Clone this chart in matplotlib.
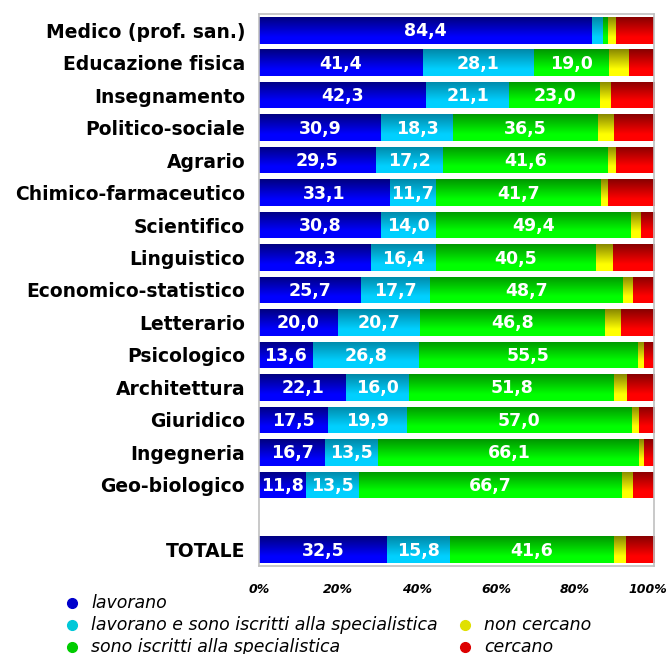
import numpy as np
import matplotlib
matplotlib.use("Agg")
import matplotlib.pyplot as plt
from matplotlib.colors import to_rgb
from matplotlib.lines import Line2D
from matplotlib.transforms import ScaledTranslation

# --- data ---
categories = ["Medico (prof. san.)", "Educazione fisica", "Insegnamento",
              "Politico-sociale", "Agrario", "Chimico-farmaceutico",
              "Scientifico", "Linguistico", "Economico-statistico",
              "Letterario", "Psicologico", "Architettura", "Giuridico",
              "Ingegneria", "Geo-biologico", "TOTALE"]
lavorano = [84.4, 41.4, 42.3, 30.9, 29.5, 33.1, 30.8, 28.3, 25.7, 20.0,
            13.6, 22.1, 17.5, 16.7, 11.8, 32.5]
lavorano_iscritti = [2.6, 28.1, 21.1, 18.3, 17.2, 11.7, 14.0, 16.4, 17.7, 20.7,
                     26.8, 16.0, 19.9, 13.5, 13.5, 15.8]
iscritti = [1.3, 19.0, 23.0, 36.5, 41.6, 41.7, 49.4, 40.5, 48.7, 46.8,
            55.5, 51.8, 57.0, 66.1, 66.7, 41.6]
non_cercano = [2.1, 5.2, 2.7, 4.1, 2.1, 1.8, 2.5, 4.4, 2.6, 4.1,
               1.6, 3.2, 1.8, 1.2, 2.7, 3.0]
cercano = [9.6, 6.3, 10.9, 10.2, 9.6, 11.7, 3.3, 10.4, 5.3, 8.4,
           2.5, 6.9, 3.8, 2.5, 5.3, 7.1]
series_names = ["lavorano", "lavorano e sono iscritti alla specialistica",
                "sono iscritti alla specialistica", "non cercano", "cercano"]
xticks = [0, 20, 40, 60, 80, 100]

# gradient (top, bottom) per series
grad = [("#000080", "#0000ff"), ("#0088a8", "#00d0ff"), ("#009600", "#00ff00"),
        ("#888800", "#ffff00"), ("#880000", "#ff0000")]
legend_colors = ["#0000cc", "#00c8d8", "#00cc00", "#e0e000", "#dd0000"]

# positions: one empty slot before TOTALE
ypos = list(range(15)) + [16]
bar_h = 0.82

fig = plt.figure(figsize=(6.69, 6.54), dpi=100)
ax = fig.add_axes([259 / 669, 1 - 566 / 654, 395 / 669, 552 / 654])

data = [lavorano, lavorano_iscritti, iscritti, non_cercano, cercano]
left = np.zeros(len(categories))
ramp = np.linspace(0, 1, 64)
for s, vals in enumerate(data):
    vals = np.array(vals)
    bars = ax.barh(ypos, vals, left=left, height=bar_h, color=grad[s][1],
                   edgecolor="none")
    # vertical shading: dark at the top, bright below
    c0, c1 = np.array(to_rgb(grad[s][0])), np.array(to_rgb(grad[s][1]))
    t = np.clip(ramp / 0.75, 0, 1)
    img = (c0[None, :] * (1 - t[:, None]) + c1[None, :] * t[:, None])[:, None, :]
    for b in bars:
        x0, y0, w, h = b.get_x(), b.get_y(), b.get_width(), b.get_height()
        im = ax.imshow(img, extent=(x0, x0 + w, y0 + h, y0), origin="upper",
                       aspect="auto", interpolation="bilinear", zorder=2)
        im.set_clip_path(b)
    if s < 3:
        for y, l, v in zip(ypos, left, vals):
            if v < 5:
                continue
            ax.text(l + v / 2, y + 0.03, f"{v:.1f}".replace(".", ","),
                    ha="center", va="center", color="white",
                    fontsize=12.5, fontweight="bold", zorder=3)
    left += vals

ax.set_xlim(0, 100)
ax.set_ylim(16.5, -0.5)
ax.set_yticks(ypos)
ax.set_yticklabels(categories, fontsize=13.5, fontweight="bold")
ax.set_xticks(xticks)
ax.set_xticklabels([f"{v}%" for v in xticks], fontsize=9,
                   fontweight="bold", style="italic")
ax.tick_params(axis="both", length=0)
ax.tick_params(axis="y", pad=10)
ax.tick_params(axis="x", pad=12)
# keep "100%" inside the picture, as in the original
last = ax.get_xticklabels()[-1]
last.set_ha("right")
last.set_transform(last.get_transform() + ScaledTranslation(0.13, 0, fig.dpi_scale_trans))
for sp in ax.spines.values():
    sp.set_color("#c0c0c0")
    sp.set_linewidth(1.2)

# legend laid out like the original (two columns, second starts on row 2)
leg_pos = [(72, 603), (72, 625), (72, 647), (465, 625), (465, 647)]
for (px, py), name, col in zip(leg_pos, series_names, legend_colors):
    fx, fy = px / 669, 1 - py / 654
    fig.add_artist(Line2D([fx], [fy], marker="o", markersize=7, color=col,
                          markeredgecolor=col, linestyle="none",
                          transform=fig.transFigure))
    fig.text(fx + 19 / 669, fy, name, fontsize=12.5, style="italic",
             ha="left", va="center")

fig.savefig("out.png", dpi=100)
